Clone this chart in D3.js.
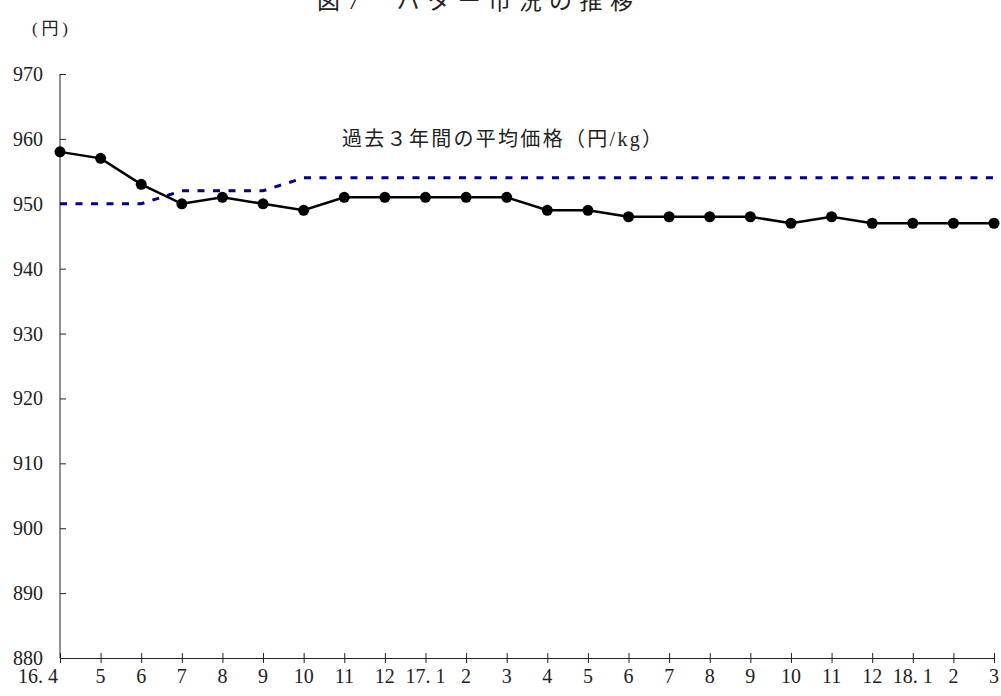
<!DOCTYPE html>
<html lang="ja">
<head>
<meta charset="utf-8">
<script src="https://cdn.jsdelivr.net/npm/d3@7"></script>
<style>
  html, body { margin: 0; padding: 0; background: #fff; }
  svg { display: block; }
</style>
</head>
<body>
<svg id="chart" width="1001" height="696"></svg>
<script>
// 月次バター価格（円/kg）
const months = ["16. 4", "5", "6", "7", "8", "9", "10", "11", "12", "17. 1", "2", "3",
                "4", "5", "6", "7", "8", "9", "10", "11", "12", "18. 1", "2", "3"];
const butterPrice = [958, 957, 953, 950, 951, 950, 949, 951, 951, 951, 951, 951,
                     949, 949, 948, 948, 948, 948, 947, 948, 947, 947, 947, 947];
// 過去3年間の平均価格
const avgPrice = [950, 950, 950, 952, 952, 952, 954, 954, 954, 954, 954, 954,
                  954, 954, 954, 954, 954, 954, 954, 954, 954, 954, 954, 954];
const yTicks = [880, 890, 900, 910, 920, 930, 940, 950, 960, 970];

const FONT = "'Liberation Serif', 'Times New Roman', 'DejaVu Serif', 'Noto Sans CJK JP', serif";

const svg = d3.select("#chart");
const margin = { left: 60, right: 7, top: 74, bottom: 38 };
const W = 1001, H = 696;

const x = d3.scalePoint()
  .domain(d3.range(months.length))
  .range([margin.left, W - margin.right]);
const y = d3.scaleLinear()
  .domain([880, 970])
  .range([H - margin.bottom, margin.top]);

const txt = (sel) => sel.attr("font-family", FONT).attr("fill", "#222");

// タイトル（上端で切れている）
svg.append("text").call(txt)
  .attr("x", 475).attr("y", 9)
  .attr("text-anchor", "middle")
  .attr("font-size", 23)
  .attr("textLength", 316).attr("lengthAdjust", "spacing")
  .text("図7　バター市況の推移");

// 単位
svg.append("text").call(txt)
  .attr("x", 32).attr("y", 34)
  .attr("font-size", 17)
  .attr("textLength", 36).attr("lengthAdjust", "spacing")
  .text("(円)");

// 縦軸
const yAxis = d3.axisRight(y).tickValues(yTicks).tickSize(6).tickFormat("");
const gy = svg.append("g")
  .attr("transform", `translate(${margin.left},0)`)
  .call(yAxis);
gy.select(".domain").attr("d", `M0,${y(970)}V${y(880)}`).attr("stroke", "#222");
gy.selectAll(".tick line").attr("stroke", "#222");

svg.append("g").selectAll("text")
  .data(yTicks)
  .join("text").call(txt)
  .attr("x", 43)
  .attr("y", d => y(d))
  .attr("dy", "0.35em")
  .attr("text-anchor", "end")
  .attr("font-size", 20)
  .text(d => d);

// 横軸
const xAxis = d3.axisBottom(x).tickSizeInner(5).tickSizeOuter(0).tickFormat("");
const gx = svg.append("g")
  .attr("transform", `translate(0,${y(880)})`)
  .call(xAxis);
gx.select(".domain").attr("stroke", "#222");
gx.selectAll(".tick line").attr("y1", -5).attr("y2", 5).attr("stroke", "#222");

svg.append("g").selectAll("text")
  .data(months)
  .join("text").call(txt)
  .attr("x", (d, i) => x(i))
  .attr("dx", (d, i) => i === 0 ? -22 : 0)
  .attr("y", y(880) + 25)
  .attr("text-anchor", "middle")
  .attr("font-size", 20)
  .style("white-space", "pre")
  .text(d => d);

// 平均価格（点線）
const line = d3.line().x((d, i) => x(i)).y(d => y(d));
svg.append("path")
  .datum(avgPrice)
  .attr("d", line)
  .attr("fill", "none")
  .attr("stroke", "#000080")
  .attr("stroke-width", 3)
  .attr("stroke-dasharray", "7,8.5");

svg.append("text").call(txt)
  .attr("x", 342).attr("y", 146)
  .attr("font-size", 20)
  .attr("textLength", 320).attr("lengthAdjust", "spacing")
  .text("過去３年間の平均価格（円/kg）");

// バター価格（実線＋マーカー）
svg.append("path")
  .datum(butterPrice)
  .attr("d", line)
  .attr("fill", "none")
  .attr("stroke", "#000")
  .attr("stroke-width", 2.5);

svg.append("g").selectAll("circle")
  .data(butterPrice)
  .join("circle")
  .attr("cx", (d, i) => x(i))
  .attr("cy", d => y(d))
  .attr("r", 5.5)
  .attr("fill", "#000");
</script>
</body>
</html>
